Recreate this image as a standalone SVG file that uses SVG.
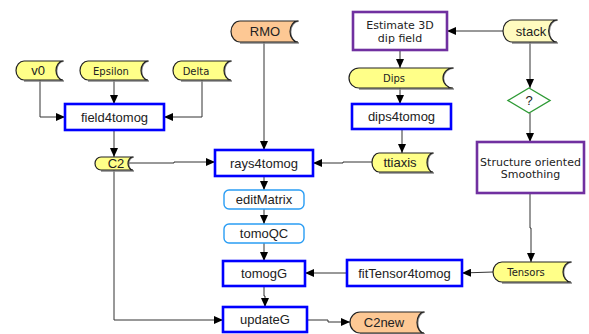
<svg xmlns="http://www.w3.org/2000/svg" width="589" height="334" viewBox="0 0 589 334">
<style>
.st{stroke:#222;stroke-width:1.2}
.y{fill:#ffff88}
.py{fill:#fffbbf}
.o{fill:#fdc894}
.sh{fill:none;stroke:#888;stroke-width:1.5}
.pb{fill:#fff;stroke:#0000ff;stroke-width:2.6}
.pp{fill:#fff;stroke:#7030a0;stroke-width:2.6}
.lb{fill:#fff;stroke:#2a9df4;stroke-width:1.4}
.dm{fill:#fff;stroke:#2e9a35;stroke-width:1.4}
.c{fill:none;stroke:#333;stroke-width:1}
.a{font-family:"Liberation Sans",Arial,sans-serif;font-size:13px;fill:#222;text-anchor:middle}
.d{font-family:"DejaVu Sans",sans-serif;font-size:10px;fill:#222;text-anchor:middle}
.d2{font-family:"DejaVu Sans",sans-serif;font-size:11px;fill:#222;text-anchor:middle}
</style>
<defs>
<marker id="ar" markerWidth="9" markerHeight="8" refX="9" refY="4" orient="auto" markerUnits="userSpaceOnUse">
<path d="M0,0 L9,4 L0,8 Z" fill="#000"/>
</marker>
</defs>
<rect width="589" height="334" fill="#fff"/>
<g id="connectors">
<polyline class="c" points="40,80 40,117 65,117" marker-end="url(#ar)"/>
<polyline class="c" points="114,80 114,104" marker-end="url(#ar)"/>
<polyline class="c" points="202,80 202,117 164,117" marker-end="url(#ar)"/>
<polyline class="c" points="114,130 114,157" marker-end="url(#ar)"/>
<polyline class="c" points="128,163 174,163 174,162 215,162" marker-end="url(#ar)"/>
<polyline class="c" points="264,42 264,150" marker-end="url(#ar)"/>
<polyline class="c" points="503,31 447,31" marker-end="url(#ar)"/>
<polyline class="c" points="400,50 400,68" marker-end="url(#ar)"/>
<polyline class="c" points="400,88 400,104" marker-end="url(#ar)"/>
<polyline class="c" points="402,129 402,153" marker-end="url(#ar)"/>
<polyline class="c" points="372,162 343,162 343,163 313,163" marker-end="url(#ar)"/>
<polyline class="c" points="530,42 530,88" marker-end="url(#ar)"/>
<polyline class="c" points="530,113 530,142" marker-end="url(#ar)"/>
<polyline class="c" points="530,193 530,228 531,228 531,262" marker-end="url(#ar)"/>
<polyline class="c" points="493,272 462,273" marker-end="url(#ar)"/>
<polyline class="c" points="347,273 305,273" marker-end="url(#ar)"/>
<polyline class="c" points="264,176 264,190" marker-end="url(#ar)"/>
<polyline class="c" points="264,209 264,224" marker-end="url(#ar)"/>
<polyline class="c" points="264,243 264,261" marker-end="url(#ar)"/>
<polyline class="c" points="264,286 264,296 265,296 265,307" marker-end="url(#ar)"/>
<polyline class="c" points="114,170 114,320 223,320" marker-end="url(#ar)"/>
<polyline class="c" points="307,320 328,320 328,322 350,322" marker-end="url(#ar)"/>
</g>
<g id="v0">
<path class="sh" d="M64,61 A7,9.5 0 0 0 64,81 L24,81"/>
<path class="y st" d="M24,61 L63,61 A7,9.5 0 0 0 63,80 L24,80 A8,9.5 0 0 1 24,61 Z"/>
<text class="a" x="38" y="75">v0</text>
</g>
<g id="Epsilon">
<path class="sh" d="M149,61 A7,9.5 0 0 0 149,81 L88,81"/>
<path class="y st" d="M88,61 L148,61 A7,9.5 0 0 0 148,80 L88,80 A8,9.5 0 0 1 88,61 Z"/>
<text class="d" x="111" y="75">Epsilon</text>
</g>
<g id="Delta">
<path class="sh" d="M232,61 A7,9.5 0 0 0 232,81 L181,81"/>
<path class="y st" d="M181,61 L231,61 A7,9.5 0 0 0 231,80 L181,80 A8,9.5 0 0 1 181,61 Z"/>
<text class="d" x="196" y="75">Delta</text>
</g>
<g id="RMO">
<path class="sh" d="M299,21 A8,10.5 0 0 0 299,43 L240,43"/>
<path class="o st" d="M240,21 L298,21 A8,10.5 0 0 0 298,42 L240,42 A9,10.5 0 0 1 240,21 Z"/>
<text class="a" x="265" y="36">RMO</text>
</g>
<g id="field4tomog">
<rect class="pb" x="65" y="104" width="99" height="26"/>
<text class="a" x="114.5" y="122">field4tomog</text>
</g>
<g id="C2">
<path class="sh" d="M134,157 A5,6.5 0 0 0 134,171 L101,171"/>
<path class="y st" d="M101,157 L133,157 A5,6.5 0 0 0 133,170 L101,170 A6,6.5 0 0 1 101,157 Z"/>
<text class="a" x="116" y="168">C2</text>
</g>
<g id="rays4tomog">
<rect class="pb" x="215" y="150" width="98" height="26"/>
<text class="a" x="264" y="168">rays4tomog</text>
</g>
<g id="estimate">
<rect class="pp" x="353" y="12" width="94" height="38"/>
<text class="d2" x="400" y="29">Estimate 3D</text>
<text class="d2" x="400" y="42">dip field</text>
</g>
<g id="stack">
<path class="sh" d="M558,20 A8,10.5 0 0 0 558,43 L512,43"/>
<path class="py st" d="M512,20 L557,20 A8,10.5 0 0 0 557,42 L512,42 A9,11 0 0 1 512,20 Z"/>
<text class="a" x="531" y="36">stack</text>
</g>
<g id="Dips">
<path class="sh" d="M454,68 A10,10 0 0 0 454,89 L359,89"/>
<path class="y st" d="M359,68 L453,68 A10,10 0 0 0 453,88 L359,88 A10,10 0 0 1 359,68 Z"/>
<text class="d" x="394" y="82">Dips</text>
</g>
<g id="dips4tomog">
<rect class="pb" x="352" y="104" width="99" height="25"/>
<text class="a" x="401.5" y="121">dips4tomog</text>
</g>
<g id="ttiaxis">
<path class="sh" d="M434,153 A6,9.5 0 0 0 434,173 L379,173"/>
<path class="y st" d="M379,153 L433,153 A6,9.5 0 0 0 433,172 L379,172 A7,9.5 0 0 1 379,153 Z"/>
<text class="a" x="400" y="167">ttiaxis</text>
</g>
<g id="decision">
<polygon class="dm" points="529,88 550,100.5 529,113 508,100.5"/>
<text class="a" x="529" y="105">?</text>
</g>
<g id="smoothing">
<rect class="pp" x="477" y="142" width="107" height="51"/>
<text class="d2" x="530.5" y="166">Structure oriented</text>
<text class="d2" x="530.5" y="178">Smoothing</text>
</g>
<g id="editMatrix">
<rect class="lb" x="224" y="190" width="80" height="19" rx="5"/>
<text class="a" x="264" y="204">editMatrix</text>
</g>
<g id="tomoQC">
<rect class="lb" x="224" y="224" width="80" height="19" rx="5"/>
<text class="a" x="264" y="238">tomoQC</text>
</g>
<g id="tomogG">
<rect class="pb" x="223" y="261" width="82" height="25"/>
<text class="a" x="264" y="278">tomogG</text>
</g>
<g id="updateG">
<rect class="pb" x="223" y="307" width="84" height="25"/>
<text class="a" x="265" y="324">updateG</text>
</g>
<g id="fitTensor4tomog">
<rect class="pb" x="347" y="260" width="115" height="26"/>
<text class="a" x="404.5" y="278">fitTensor4tomog</text>
</g>
<g id="Tensors">
<path class="sh" d="M572,262 A8,10 0 0 0 572,283 L502,283"/>
<path class="y st" d="M502,262 L571,262 A8,10 0 0 0 571,282 L502,282 A9,10 0 0 1 502,262 Z"/>
<text class="d" x="526" y="276">Tensors</text>
</g>
<g id="C2new">
<path class="sh" d="M425,312 A7,10.5 0 0 0 425,334 L360,334"/>
<path class="o st" d="M360,312 L424,312 A7,10.5 0 0 0 424,333 L360,333 A10,10.5 0 0 1 360,312 Z"/>
<text class="a" x="384" y="327">C2new</text>
</g>
</svg>
